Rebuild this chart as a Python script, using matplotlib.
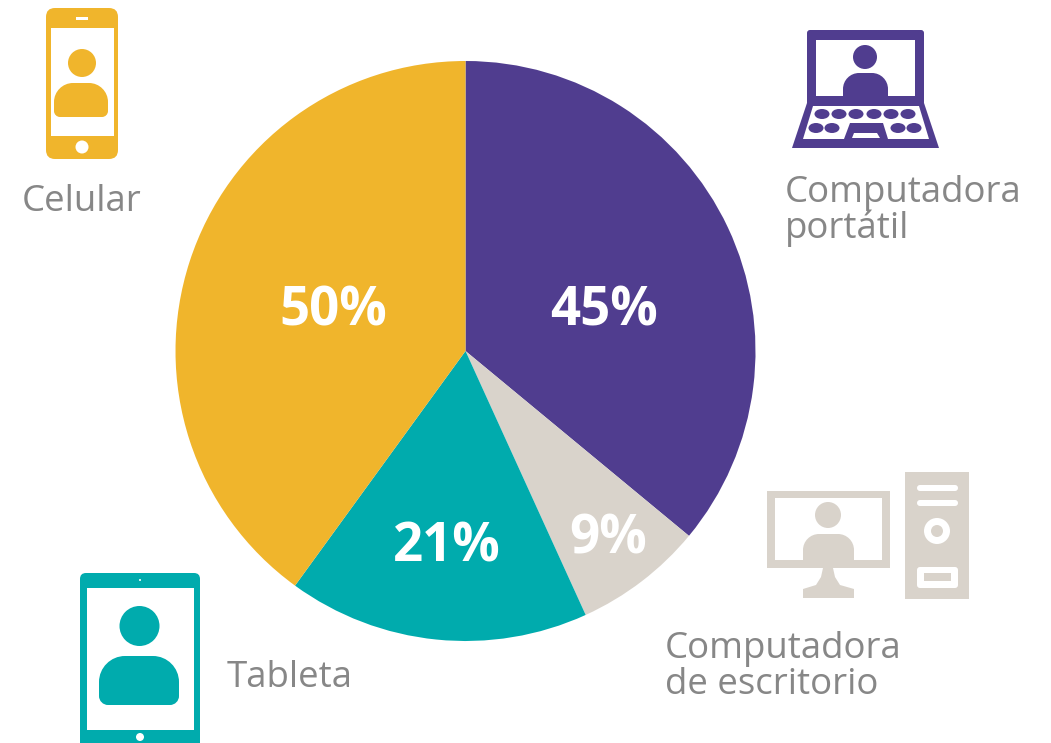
import matplotlib
matplotlib.use('Agg')
import matplotlib.pyplot as plt
from matplotlib.patches import Circle, Ellipse, FancyBboxPatch, PathPatch, Polygon, Rectangle
from matplotlib.path import Path

devices = ['Computadora\nportátil', 'Computadora\nde escritorio', 'Tableta', 'Celular']
percents = [45, 9, 21, 50]
colors = ['#503d8f', '#d9d3cb', '#00abad', '#f0b52c']

W, H = 1051, 743
GREY = '#878787'
plt.rcParams['font.family'] = ['Open Sans', 'DejaVu Sans']

fig = plt.figure(figsize=(W / 100, H / 100), dpi=100, facecolor='white')

# pie in its own axes, placed in pixels
cx, cy, r = 465.5, 351, 290
ax_pie = fig.add_axes([(cx - r) / W, 1 - (cy + r) / H, 2 * r / W, 2 * r / H])
ax_pie.pie(percents, colors=colors, startangle=90, counterclock=False, radius=1)
ax_pie.set_xlim(-1, 1)
ax_pie.set_ylim(-1, 1)
ax_pie.axis('off')

# overlay in image pixels for the texts and icons
ax = fig.add_axes([0, 0, 1, 1])
ax.set_xlim(0, W)
ax.set_ylim(H, 0)
ax.axis('off')
ax.patch.set_alpha(0)


def rrect(x0, y0, x1, y1, color, rad=3):
    ax.add_patch(FancyBboxPatch((x0 + rad, y0 + rad), x1 - x0 - 2 * rad, y1 - y0 - 2 * rad,
                                boxstyle=f'round,pad={rad},rounding_size={rad}',
                                fc=color, ec='none', mutation_aspect=1))


def rect(x0, y0, x1, y1, color):
    ax.add_patch(Rectangle((x0, y0), x1 - x0, y1 - y0, fc=color, ec='none'))


def dot(x, y, rad, color):
    ax.add_patch(Circle((x, y), rad, fc=color, ec='none'))


def poly(pts, color):
    ax.add_patch(Polygon(pts, closed=True, fc=color, ec='none'))


def body(x0, x1, y0, y1, rt, rb, color):
    k = 0.45
    verts = [(x0 + rb, y1), (x1 - rb, y1), (x1 - rb * k, y1), (x1, y1 - rb * k), (x1, y1 - rb),
             (x1, y0 + rt), (x1, y0 + rt * k), (x1 - rt * k, y0), (x1 - rt, y0),
             (x0 + rt, y0), (x0 + rt * k, y0), (x0, y0 + rt * k), (x0, y0 + rt),
             (x0, y1 - rb), (x0, y1 - rb * k), (x0 + rb * k, y1), (x0 + rb, y1), (x0 + rb, y1)]
    codes = [Path.MOVETO, Path.LINETO, Path.CURVE4, Path.CURVE4, Path.CURVE4,
             Path.LINETO, Path.CURVE4, Path.CURVE4, Path.CURVE4,
             Path.LINETO, Path.CURVE4, Path.CURVE4, Path.CURVE4,
             Path.LINETO, Path.CURVE4, Path.CURVE4, Path.CURVE4, Path.CLOSEPOLY]
    ax.add_patch(PathPatch(Path(verts, codes), fc=color, ec='none'))


# laptop
c = colors[0]
rrect(807, 30, 924, 105, c, 3)
rect(816, 40, 915, 96, 'white')
dot(865, 57, 12, c)
body(843, 888, 73, 96, 16, 0, c)
poly([(808, 100), (923, 100), (939, 148), (792, 148)], c)
poly([(813, 106), (919, 106), (929, 139), (803, 139)], 'white')
for x in [822, 839, 856, 874, 891, 908]:
    ax.add_patch(Ellipse((x, 114), 15, 10, fc=c, ec='none'))
for x in [816, 832, 898, 914]:
    ax.add_patch(Ellipse((x, 128), 15, 10, fc=c, ec='none'))
poly([(850, 123), (883, 123), (888, 139), (844, 139)], c)
poly([(854, 133), (877, 133), (880, 138), (852, 138)], 'white')

# desktop
c = colors[1]
rect(767, 491, 890, 568, c)
rect(775, 498, 882, 560, 'white')
dot(828, 515, 13, c)
body(803, 854, 534, 560, 16, 0, c)
poly([(823, 568), (833, 568), (835, 577), (840, 585), (854, 589), (854, 598),
      (803, 598), (803, 589), (816, 585), (821, 577)], c)
rect(905, 472, 969, 599, c)
rrect(917, 485, 958, 491, 'white', 3)
rrect(917, 500, 958, 506, 'white', 3)
dot(937, 531, 13, 'white')
dot(937, 531, 6, c)
rrect(917, 567, 958, 588, 'white', 3)
rect(924, 573, 951, 581, c)

# tablet
c = colors[2]
rrect(80, 573, 200, 760, c, 6)
rect(87, 588, 194, 730, 'white')
dot(139.5, 626, 20, c)
body(99, 179, 656, 705, 26, 9, c)
dot(140, 737, 4, 'white')
dot(140, 580, 1, 'white')

# phone
c = colors[3]
rrect(46, 8, 118, 159, c, 9)
rect(51, 28, 114, 136, 'white')
dot(82, 63, 14, c)
body(54, 108, 83, 117, 19, 6, c)
dot(82, 147, 6.5, 'white')
rect(76, 17, 88, 20, 'white')

# percent labels on the slices
for p, (x, y) in zip(percents, [(604, 311), (608, 539), (447, 548), (333, 311)]):
    ax.text(x, y, f'{p}%', color='white', fontsize=38, fontweight='bold', ha='center', va='center')

# device labels
for name, (x, y) in zip(devices, [(785, 211), (665, 667), (227, 678), (22, 202)]):
    ax.text(x, y, name, color=GREY, fontsize=26.4, fontweight='medium', ha='left', va='center', linespacing=0.98)

fig.savefig('out.png', dpi=100, facecolor='white')
